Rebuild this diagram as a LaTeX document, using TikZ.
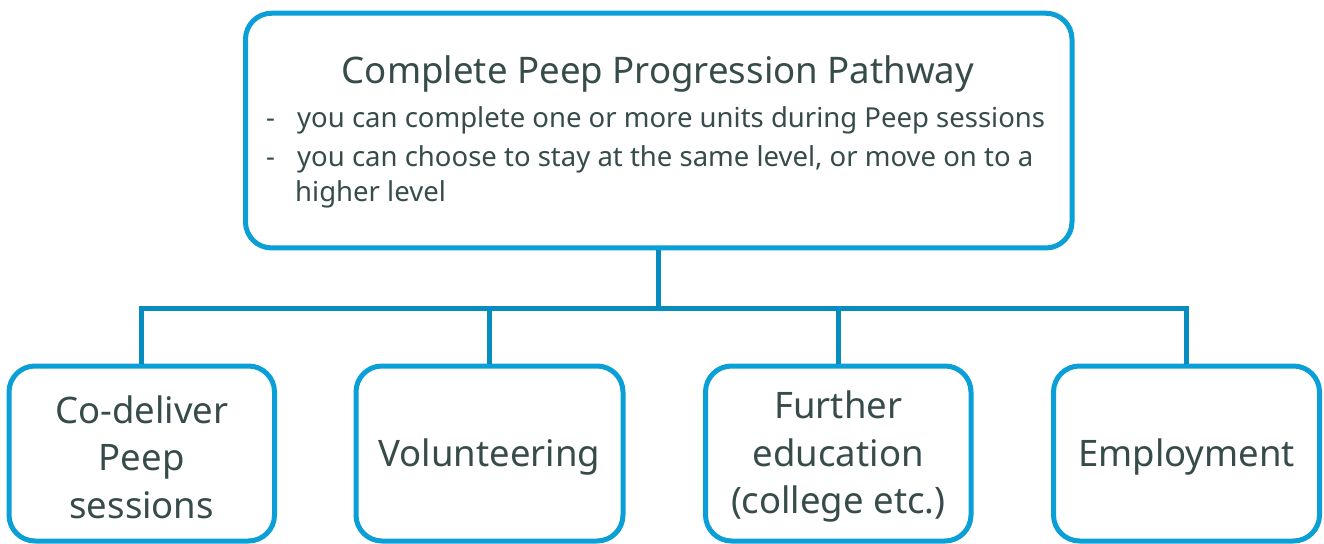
\documentclass[tikz,border=0pt]{standalone}
\usepackage{fontspec}
\setmainfont{Noto Sans}
\definecolor{boxblue}{HTML}{0A9FD6}
\definecolor{linkblue}{HTML}{078CC0}
\definecolor{txt}{HTML}{374B4B}
\begin{document}
\begin{tikzpicture}[x=1pt,y=-1pt,
  box/.style={draw=boxblue,line width=5pt,rounded corners=26pt,fill=white,inner sep=0pt},
  conn/.style={draw=linkblue,line width=5pt},
  lbl/.style={text=txt,font=\fontsize{36.5}{47.5}\selectfont,align=center,inner sep=0pt},
  ttl/.style={text=txt,font=\fontsize{36.6}{44}\selectfont,inner sep=0pt,anchor=base},
  bul/.style={text=txt,font=\fontsize{27.5}{36}\selectfont,inner sep=0pt,anchor=base west}]
\useasboundingbox (0,0) rectangle (1324,543);
\node[box,minimum width=826.5pt,minimum height=234.7pt] (top) at (658.75,130.6) {};
\node[ttl] (title) at (658,83) {Complete Peep Progression Pathway};
\node[bul] (d1) at (266,127) {-};
\node[bul] (t1) at (297,127) {you can complete one or more units during Peep sessions};
\node[bul] (d2) at (266,166) {-};
\node[bul] (t2) at (297,166) {you can choose to stay at the same level, or move on to a};
\node[bul] (t3) at (295,201) {higher level};
\coordinate (bar) at (0,308);
\node[box,minimum width=265.5pt,minimum height=175pt] (b1) at (141.75,453.5) {};
\node[box,minimum width=267pt,minimum height=175pt] (b2) at (489.5,453.5) {};
\node[box,minimum width=265.5pt,minimum height=175pt] (b3) at (838.25,453.5) {};
\node[box,minimum width=266pt,minimum height=175pt] (b4) at (1186.5,453.5) {};
\node[lbl] (l1) at (141.75,457) {Co-deliver\\Peep\\sessions};
\node[lbl] (l2) at (489.5,457) {Volunteering};
\node[lbl] (l3) at (838.25,457) {Further\\education\\(college etc.)};
\node[lbl] (l4) at (1186.5,457) {Employment};
\draw[conn] (top.south) -- (top.south |- bar);
\draw[conn] (b1.north) |- (b4.north |- bar) -- (b4.north);
\draw[conn] (b2.north) -- (b2.north |- bar);
\draw[conn] (b3.north) -- (b3.north |- bar);
\end{tikzpicture}
\end{document}
